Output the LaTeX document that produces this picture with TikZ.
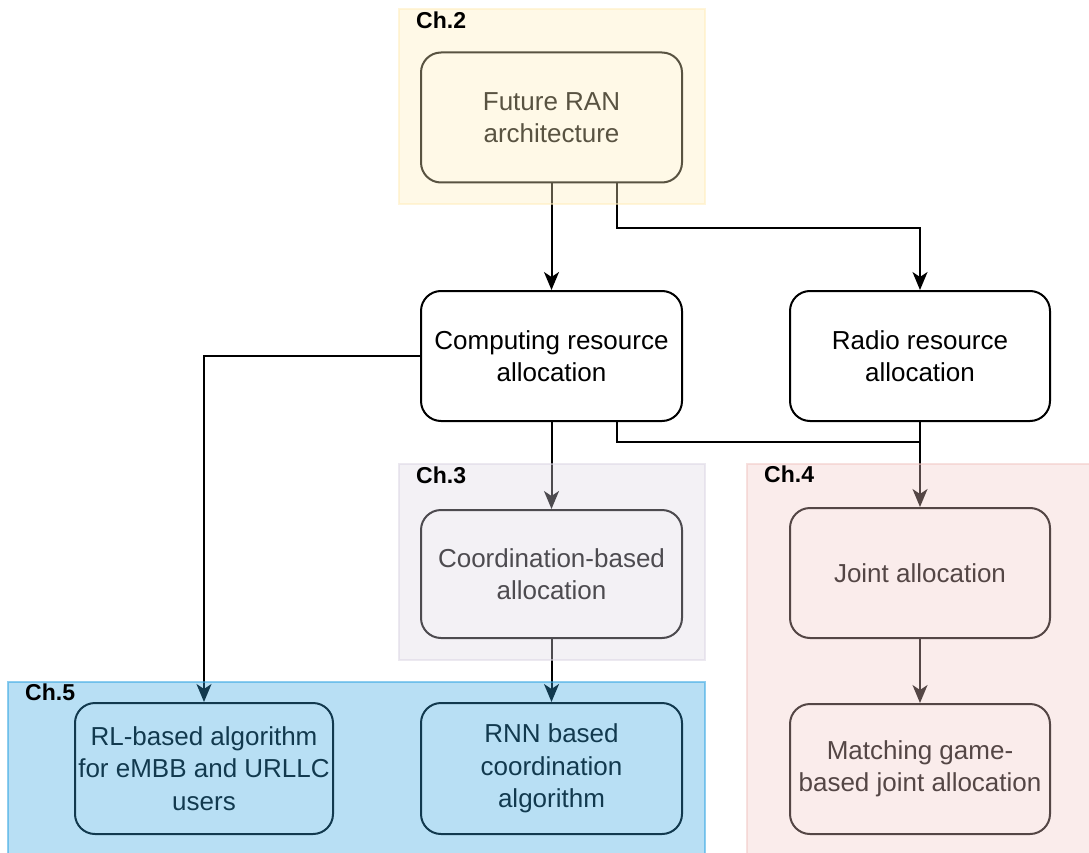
\documentclass[tikz,border=0pt]{standalone}
\usepackage{fontspec}
\setmainfont{Liberation Sans}
\usetikzlibrary{arrows.meta,calc}
\definecolor{chy}{RGB}{255,238,189}
\definecolor{chl}{RGB}{221,215,229}
\definecolor{chp}{RGB}{241,201,198}
\definecolor{chb}{RGB}{52,166,226}
\begin{document}
\begin{tikzpicture}[x=1pt,y=-1pt,
 box/.style={draw=black, line width=2pt, rounded corners=20pt, fill=white,
   minimum width=261pt, minimum height=130pt, align=center,
   font=\fontsize{26}{32.5}\selectfont, inner sep=2pt},
 link/.style={draw=black, line width=2pt, -{Stealth[length=18pt,width=15pt,inset=5pt]}},
 plainline/.style={draw=black, line width=2pt},
 chframe/.style={line width=2pt, fill opacity=0.35, draw opacity=0.55},
 chlabel/.style={font=\fontsize{23}{27}\selectfont\bfseries, anchor=north west, inner sep=0pt}]
\useasboundingbox (0,0) rectangle (1089,853);
\fill[white] (0,0) rectangle (1089,853);

% nodes
\node[box] (fut) at (551.5,117.5) {Future RAN\\architecture};
\node[box] (comp) at (551.5,356) {Computing resource\\allocation};
\node[box, minimum width=260pt] (radio) at (920,356) {Radio resource\\allocation};
\node[box, minimum height=128pt] (coord) at (551.5,574) {Coordination-based\\allocation};
\node[box, minimum width=260pt] (joint) at (920,573) {Joint allocation};
\node[box, minimum width=260pt] (match) at (920,769) {Matching game-\\based joint allocation};
\node[box, minimum width=258pt, minimum height=131pt] (rl) at (204,768.5) {RL-based algorithm\\for eMBB and URLLC\\users};
\node[box, minimum height=131pt] (rnn) at (551.5,768.5) {RNN based\\coordination\\algorithm};
\coordinate (mrg) at (920,442);

% connectors
\draw[link] (fut.south) -- (comp.north);
\draw[link] ([xshift=65.5pt]fut.south) -- ++(0,44) -| (radio.north);
\draw[link] (comp.west) -| (rl.north);
\draw[link] (comp.south) -- (coord.north);
\draw[plainline] ([xshift=65.5pt]comp.south) |- (mrg);
\draw[link] (radio.south) -- (joint.north);
\draw[link] (coord.south) -- (rnn.north);
\draw[link] (joint.south) -- (match.north);

% chapter frames (translucent overlays)
\begin{scope}
\clip (0,0) rectangle (1089,853);
\filldraw[chframe, fill=chy, draw=chy] (399,9) rectangle (705,204);
\filldraw[chframe, fill=chl, draw=chl] (399,464) rectangle (705,660);
\filldraw[chframe, fill=chp, draw=chp] (747,464) rectangle (1100,870);
\filldraw[chframe, fill=chb, draw=chb] (8,682) rectangle (705,870);
\end{scope}

\node[chlabel] (l2) at (416,12) {Ch.2};
\node[chlabel] (l3) at (416,467) {Ch.3};
\node[chlabel] (l4) at (764,466) {Ch.4};
\node[chlabel] (l5) at (25,684) {Ch.5};
\end{tikzpicture}
\end{document}
